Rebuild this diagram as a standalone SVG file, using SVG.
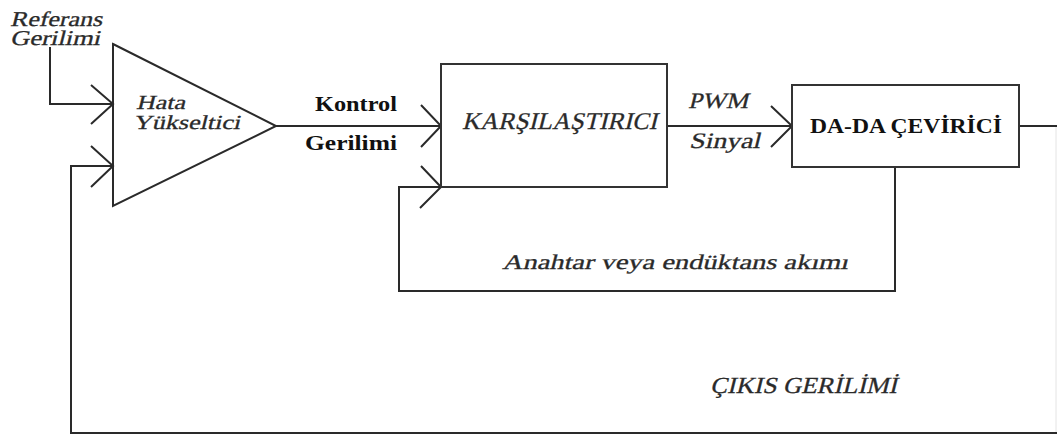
<svg xmlns="http://www.w3.org/2000/svg" width="1057" height="439" viewBox="0 0 1057 439">
<style>
.ln{fill:none;stroke:#2a2a2a;stroke-width:2;stroke-linejoin:miter}
.box{fill:#fff;stroke:#333;stroke-width:2}
.it{font-family:"Liberation Serif",serif;font-style:normal;fill:#2a2a2a;stroke:#2a2a2a;stroke-width:0.3}
.bd{font-family:"Liberation Serif",serif;font-weight:bold;fill:#111}
</style>
<rect width="1057" height="439" fill="#fff"/>
<g id="connectors">
<path class="ln" d="M50,47 V104 H113"/>
<path class="ln" d="M91,85 L113,104 L91,124"/>
<path class="ln" d="M1019,126 H1059 V433 H71 V166 H113"/>
<line x1="1056" y1="127" x2="1056" y2="432" stroke="#e4e4e4" stroke-width="1"/>
<path class="ln" d="M91,146 L113,166 L91,187"/>
<path class="ln" d="M276,126 H441"/>
<path class="ln" d="M421,105 L441,126 L421,147"/>
<path class="ln" d="M667,126 H792"/>
<path class="ln" d="M771,106 L792,126 L771,147"/>
<path class="ln" d="M895,167 V291 H399 V187 H441"/>
<path class="ln" d="M421,166 L441,187 L420,208"/>
</g>
<g id="hata-yukseltici">
<polygon class="ln" points="113,44 276,126 113,206"/>
<g transform="translate(136,109) skewX(-14)"><text class="it" font-size="20" textLength="49" lengthAdjust="spacingAndGlyphs">Hata</text></g>
<g transform="translate(133,129) skewX(-14)"><text class="it" font-size="20" textLength="107" lengthAdjust="spacingAndGlyphs">Yükseltici</text></g>
</g>
<g id="referans">
<g transform="translate(10,26) skewX(-14)"><text class="it" font-size="21" textLength="92" lengthAdjust="spacingAndGlyphs">Referans</text></g>
<g transform="translate(10,45) skewX(-14)"><text class="it" font-size="21" textLength="90" lengthAdjust="spacingAndGlyphs">Gerilimi</text></g>
</g>
<g id="kontrol-label">
<text class="bd" x="315" y="111" font-size="21" textLength="82" lengthAdjust="spacingAndGlyphs">Kontrol</text>
<text class="bd" x="305" y="150" font-size="21" textLength="92" lengthAdjust="spacingAndGlyphs">Gerilimi</text>
</g>
<g id="karsilastirici">
<rect class="box" x="441" y="64" width="226" height="123"/>
<g transform="translate(462,129) skewX(-14)"><text class="it" font-size="24" textLength="195" lengthAdjust="spacingAndGlyphs">KARŞILAŞTIRICI</text></g>
</g>
<g id="pwm-label">
<g transform="translate(688,108) skewX(-14)"><text class="it" font-size="22" textLength="60" lengthAdjust="spacingAndGlyphs">PWM</text></g>
<g transform="translate(689,148) skewX(-14)"><text class="it" font-size="22" textLength="71" lengthAdjust="spacingAndGlyphs">Sinyal</text></g>
</g>
<g id="da-da-cevirici">
<rect class="box" x="792" y="85" width="227" height="82"/>
<text class="bd" x="810" y="133" font-size="22" textLength="192" lengthAdjust="spacingAndGlyphs">DA-DA ÇEVİRİCİ</text>
</g>
<g id="akim-label">
<g transform="translate(502,269) skewX(-14)"><text class="it" font-size="21" textLength="346" lengthAdjust="spacingAndGlyphs">Anahtar veya endüktans akımı</text></g>
</g>
<g id="cikis-label">
<g transform="translate(710,393) skewX(-14)"><text class="it" font-size="23" textLength="187" lengthAdjust="spacingAndGlyphs">ÇIKIS GERİLİMİ</text></g>
</g>
</svg>
